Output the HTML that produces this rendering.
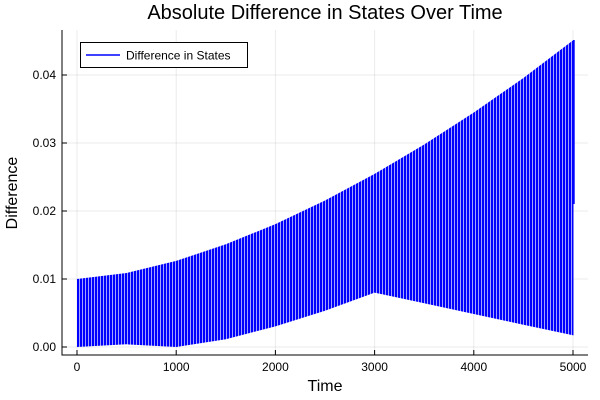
<!DOCTYPE html>
<html><head><meta charset="utf-8"><style>body{margin:0;background:#fff}svg{display:block;font-family:"Liberation Sans",sans-serif}</style></head>
<body>
<svg width="600" height="400" xmlns="http://www.w3.org/2000/svg">
<defs>
<pattern id="st" x="77" y="0" width="3" height="10" patternUnits="userSpaceOnUse">
<rect width="3" height="10" fill="#0000ff"/>
<rect x="2.1" width="0.8" height="10" fill="#c8c8ff"/>
</pattern>
</defs>
<rect width="600" height="400" fill="#fff"/>
<g stroke="#000" stroke-opacity="0.08" stroke-width="1">
<line x1="77" y1="30" x2="77" y2="355"/><line x1="176.2" y1="30" x2="176.2" y2="355"/><line x1="275.4" y1="30" x2="275.4" y2="355"/><line x1="374.6" y1="30" x2="374.6" y2="355"/><line x1="473.8" y1="30" x2="473.8" y2="355"/><line x1="573" y1="30" x2="573" y2="355"/>
<line x1="62" y1="347" x2="588" y2="347"/><line x1="62" y1="279" x2="588" y2="279"/><line x1="62" y1="211" x2="588" y2="211"/><line x1="62" y1="143" x2="588" y2="143"/><line x1="62" y1="75" x2="588" y2="75"/>
</g>
<polygon fill="url(#st)" points="77,279 126.6,273 176.2,260.9 225.8,244.3 275.4,224.1 325,200.5 374.6,173.9 424.2,144.5 473.8,112.5 523.4,78 573.5,40 573.5,335.4 523.4,324.7 473.8,314 424.2,303.3 374.6,292.6 325,310.7 275.4,326.4 225.8,339.2 176.2,347 126.6,344.3 77,347"/>
<line x1="574" y1="40" x2="574" y2="204" stroke="#0000ff" stroke-width="1.4"/>
<g stroke="#000" stroke-width="1">
<line x1="62" y1="30" x2="62" y2="355.5"/><line x1="61.5" y1="355" x2="588" y2="355"/>
<line x1="77" y1="355" x2="77" y2="350"/><line x1="176.2" y1="355" x2="176.2" y2="350"/><line x1="275.4" y1="355" x2="275.4" y2="350"/><line x1="374.6" y1="355" x2="374.6" y2="350"/><line x1="473.8" y1="355" x2="473.8" y2="350"/><line x1="573" y1="355" x2="573" y2="350"/>
<line x1="62" y1="347" x2="67" y2="347"/><line x1="62" y1="279" x2="67" y2="279"/><line x1="62" y1="211" x2="67" y2="211"/><line x1="62" y1="143" x2="67" y2="143"/><line x1="62" y1="75" x2="67" y2="75"/>
</g>
<g font-size="12" fill="#000" text-anchor="middle">
<text x="77" y="371">0</text><text x="176.2" y="371">1000</text><text x="275.4" y="371">2000</text><text x="374.6" y="371">3000</text><text x="473.8" y="371">4000</text><text x="573" y="371">5000</text>
</g>
<g font-size="12" fill="#000" text-anchor="end">
<text x="56" y="351">0.00</text><text x="56" y="283">0.01</text><text x="56" y="215">0.02</text><text x="56" y="147">0.03</text><text x="56" y="79">0.04</text>
</g>
<text x="325" y="391" font-size="16" text-anchor="middle">Time</text>
<text transform="translate(17,193) rotate(-90)" font-size="16" text-anchor="middle">Difference</text>
<text x="325" y="19" font-size="20" text-anchor="middle">Absolute Difference in States Over Time</text>
<rect x="80.5" y="42.5" width="167" height="25" fill="#fff" stroke="#000" stroke-width="1"/>
<line x1="86" y1="55" x2="120" y2="55" stroke="#0000ff" stroke-width="1.5"/>
<text x="126" y="59.5" font-size="12">Difference in States</text>
</svg>
</body></html>
